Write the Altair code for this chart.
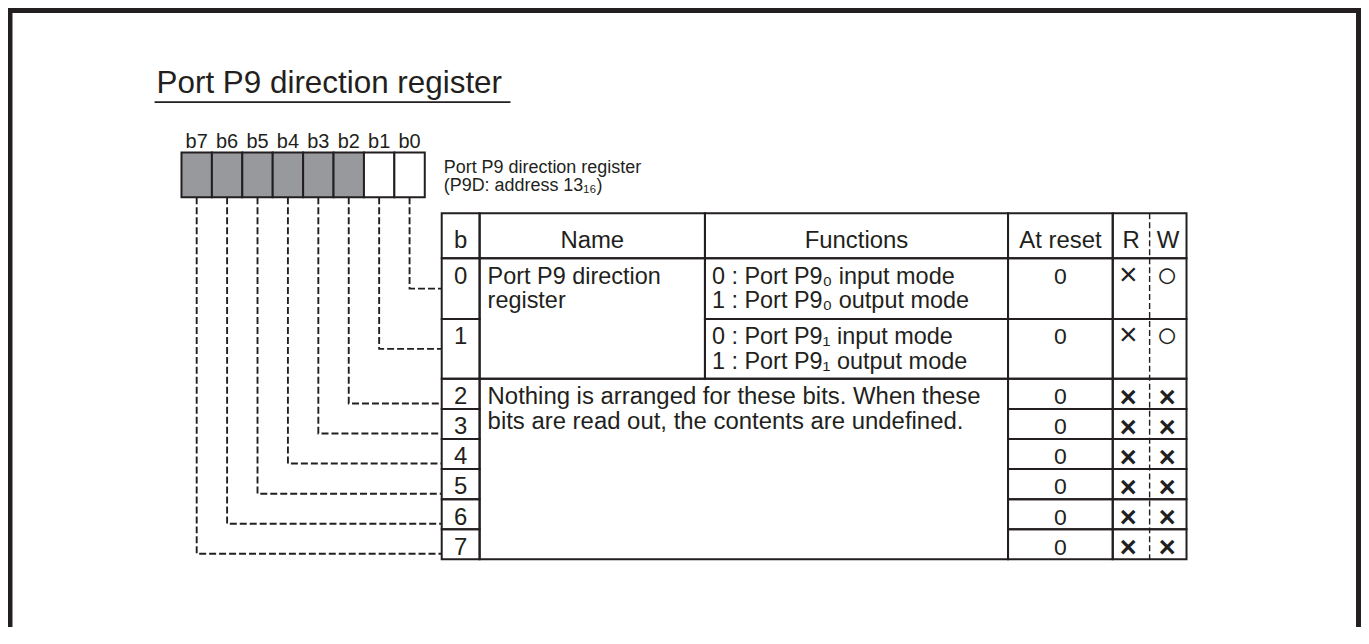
import altair as alt
import pandas as pd

# ---------------- data ----------------
TITLE = "Port P9 direction register"
BIT_LABELS = ["b7", "b6", "b5", "b4", "b3", "b2", "b1", "b0"]
BIT_SHADED = [True, True, True, True, True, True, False, False]
REGISTER_CAPTION = ["Port P9 direction register", "(P9D: address 13\u2081\u2086)"]
HEADERS = ["b", "Name", "Functions", "At reset", "R", "W"]
ROW_BITS = ["0", "1", "2", "3", "4", "5", "6", "7"]
NAME_LINES = ["Port P9 direction", "register"]
FUNCTION_LINES = [
    ["0 : Port P9\u2080 input mode", "1 : Port P9\u2080 output mode"],
    ["0 : Port P9\u2081 input mode", "1 : Port P9\u2081 output mode"],
]
NOTE_LINES = [
    "Nothing is arranged for these bits. When these",
    "bits are read out, the contents are undefined.",
]
RESET_VALUES = ["0", "0", "0", "0", "0", "0", "0", "0"]
READ_ACCESS = ["\u00d7", "\u00d7", "\u00d7", "\u00d7", "\u00d7", "\u00d7", "\u00d7", "\u00d7"]
WRITE_ACCESS = ["\u25cb", "\u25cb", "\u00d7", "\u00d7", "\u00d7", "\u00d7", "\u00d7", "\u00d7"]

# ---------------- layout (page pixels) ----------------
W, H = 1357, 620
OX, OY = 8, 8
INK = "#231f20"
GRAY = "#98999c"
FONT = "Liberation Sans"

REG_LEFT, REG_TOP, REG_BOTTOM, REG_CELL = 182, 152, 197, 30.5
COL = [443, 481, 707, 1011, 1116, 1153, 1190]
HEAD_TOP, HEAD_BOTTOM = 213, 258
ROWS = [258, 319, 379, 409.2, 439.3, 469.5, 499.7, 529.8, 560]
TXT = 24
CELL_TXT = 23.5
LINE_GAP = 24.5

XS = alt.Scale(domain=[OX, OX + W], range=[0, W], nice=False, zero=False)
YS = alt.Scale(domain=[OY, OY + H], range=[0, H], nice=False, zero=False)


def X(f="x"):
    return alt.X(f"{f}:Q", scale=XS, axis=None)


def Y(f="y"):
    return alt.Y(f"{f}:Q", scale=YS, axis=None)


# frame
frame = pd.DataFrame([
    dict(x=10, x2=10, y=OY, y2=OY + H),
    dict(x=1362.5, x2=1362.5, y=OY, y2=OY + H),
    dict(x=OX, x2=1365, y=9.5, y2=9.5),
])
frame_layer = alt.Chart(frame).mark_rule(color=INK, strokeWidth=5).encode(
    x=X(), x2="x2:Q", y=Y(), y2="y2:Q")

underline = pd.DataFrame([dict(x=155, x2=512, y=101.5, y2=101.5)])
underline_layer = alt.Chart(underline).mark_rule(color=INK, strokeWidth=1.6).encode(
    x=X(), x2="x2:Q", y=Y(), y2="y2:Q")

# register cells
reg = pd.DataFrame([
    dict(x=REG_LEFT + i * REG_CELL, x2=REG_LEFT + (i + 1) * REG_CELL,
         y=REG_TOP, y2=REG_BOTTOM, fill=GRAY if BIT_SHADED[i] else "#ffffff")
    for i in range(len(BIT_LABELS))
])
reg_layer = alt.Chart(reg).mark_rect(stroke=INK, strokeWidth=2).encode(
    x=X(), x2="x2:Q", y=Y(), y2="y2:Q", fill=alt.Fill("fill:N", scale=None))


# connector y for each table row
def row_link_y(r):
    if r < len(FUNCTION_LINES):
        return (ROWS[r] + ROWS[r + 1]) / 2
    return ROWS[r + 1] - 5.5


pts = []
for i, lab in enumerate(BIT_LABELS):
    bit = int(lab[1:])
    cx = REG_LEFT + (i + 0.5) * REG_CELL
    yc = row_link_y(bit)
    for k, (px, py) in enumerate([(cx, REG_BOTTOM), (cx, yc), (COL[0], yc)]):
        pts.append(dict(bit=lab, k=k, x=px, y=py))
links_layer = alt.Chart(pd.DataFrame(pts)).mark_line(
    color=INK, strokeWidth=1.9, strokeDash=[7, 3], strokeJoin="miter").encode(
    x=X(), y=Y(), detail="bit:N", order="k:Q")

# table cells
cells = []


def cell(x0, x1, y0, y1):
    cells.append(dict(x=x0, x2=x1, y=y0, y2=y1))


for a, b in [(0, 1), (1, 2), (2, 3), (3, 4), (4, 6)]:
    cell(COL[a], COL[b], HEAD_TOP, HEAD_BOTTOM)
for r in range(len(ROW_BITS)):
    y0, y1 = ROWS[r], ROWS[r + 1]
    cell(COL[0], COL[1], y0, y1)
    cell(COL[3], COL[4], y0, y1)
    cell(COL[4], COL[6], y0, y1)
    if r < len(FUNCTION_LINES):
        cell(COL[2], COL[3], y0, y1)
cell(COL[1], COL[2], ROWS[0], ROWS[len(FUNCTION_LINES)])
cell(COL[1], COL[3], ROWS[len(FUNCTION_LINES)], ROWS[-1])
cells_layer = alt.Chart(pd.DataFrame(cells)).mark_rect(
    fill="#ffffff", fillOpacity=0, stroke=INK, strokeWidth=2).encode(
    x=X(), x2="x2:Q", y=Y(), y2="y2:Q")

divider = pd.DataFrame([dict(x=COL[5], x2=COL[5], y=HEAD_TOP, y2=ROWS[-1])])
divider_layer = alt.Chart(divider).mark_rule(
    color=INK, strokeWidth=1.4, strokeDash=[6, 3]).encode(
    x=X(), x2="x2:Q", y=Y(), y2="y2:Q")

# texts
left, center = [], []
left.append(dict(x=157, y=92, text=TITLE, size=31.5, bold=0))
for j, line in enumerate(REGISTER_CAPTION):
    left.append(dict(x=445, y=173 + 18 * j, text=line, size=18, bold=0))
for i, lab in enumerate(BIT_LABELS):
    center.append(dict(x=REG_LEFT + (i + 0.5) * REG_CELL, y=147, text=lab, size=20, bold=0))
head_x = [(COL[0] + COL[1]) / 2, (COL[1] + COL[2]) / 2, (COL[2] + COL[3]) / 2,
          (COL[3] + COL[4]) / 2, (COL[4] + COL[5]) / 2, (COL[5] + COL[6]) / 2]
for hx, h in zip(head_x, HEADERS):
    center.append(dict(x=hx, y=248, text=h, size=TXT, bold=0))
for r in range(len(ROW_BITS)):
    base = ROWS[r] + (25.5 if r < len(FUNCTION_LINES) else 25.5)
    center.append(dict(x=head_x[0], y=base, text=ROW_BITS[r], size=TXT, bold=0))
    center.append(dict(x=head_x[3], y=base, text=RESET_VALUES[r], size=TXT - 1, bold=0))
    heavy = 1 if r >= len(FUNCTION_LINES) else 0
    for cx, sym in [(head_x[4] - 3, READ_ACCESS[r]), (head_x[5] - 1, WRITE_ACCESS[r])]:
        if sym == "\u25cb":
            size, dy = 36, 3
        elif heavy:
            size, dy = 29, 2.5
        else:
            size, dy = 32, 1
        center.append(dict(x=cx, y=base + dy, text=sym, size=size, bold=heavy))
    if r < len(FUNCTION_LINES):
        for j, line in enumerate(FUNCTION_LINES[r]):
            left.append(dict(x=COL[2] + 7, y=base + LINE_GAP * j, text=line, size=CELL_TXT, bold=0))
for j, line in enumerate(NAME_LINES):
    left.append(dict(x=COL[1] + 8, y=ROWS[0] + 25.5 + LINE_GAP * j, text=line, size=CELL_TXT, bold=0))
for j, line in enumerate(NOTE_LINES):
    left.append(dict(x=COL[1] + 8, y=ROWS[len(FUNCTION_LINES)] + 25 + 25 * j, text=line, size=TXT, bold=0))


def text_layer(df, align, weight):
    return alt.Chart(df).transform_filter(alt.datum.bold == (1 if weight == "bold" else 0)).mark_text(
        align=align, baseline="alphabetic", font=FONT, color=INK, fontWeight=weight).encode(
        x=X(), y=Y(), text="text:N", size=alt.Size("size:Q", scale=None, legend=None))


ldf, cdf = pd.DataFrame(left), pd.DataFrame(center)
chart = alt.layer(
    frame_layer, underline_layer, reg_layer, links_layer, cells_layer, divider_layer,
    text_layer(ldf, "left", "normal"), text_layer(cdf, "center", "normal"),
    text_layer(cdf, "center", "bold"),
).properties(
    width=W, height=H, padding=0, background="#ffffff",
    autosize=alt.AutoSizeParams(type="none"),
).configure_view(stroke=None)

chart.save("out.html", embed_options={"renderer": "svg", "actions": False})
